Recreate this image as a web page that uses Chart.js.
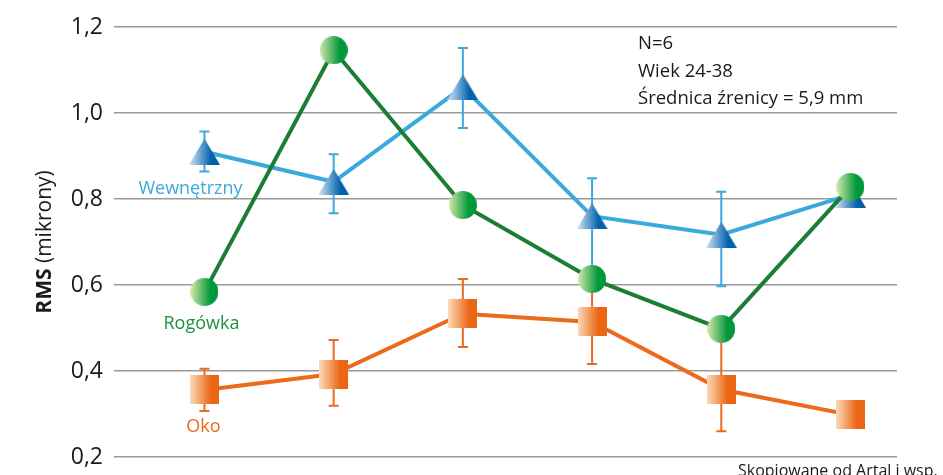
<!DOCTYPE html>
<html>
<head>
<meta charset="utf-8">
<script src="https://cdn.jsdelivr.net/npm/chart.js@4/dist/chart.umd.min.js"></script>
<style>
  html, body { margin: 0; padding: 0; background: #fff; }
  canvas { display: block; }
</style>
</head>
<body>
<canvas id="rmsChart" width="943" height="475"></canvas>
<script>
// pomiary (kolejne punkty)
var categories = [1, 2, 3, 4, 5, 6];

var wewnetrzny = [0.91, 0.84, 1.06, 0.76, 0.717, 0.81];
var wewnetrznyErrUp = [0.047, 0.064, 0.091, 0.088, 0.1, 0];
var wewnetrznyErrDown = [0.046, 0.073, 0.095, 0.12, 0.12, 0];

var rogowka = [0.584, 1.146, 0.786, 0.614, 0.498, 0.828];

var oko = [0.356, 0.393, 0.533, 0.514, 0.357, 0.298];
var okoErrUp = [0.049, 0.079, 0.081, 0.098, 0.12, 0];
var okoErrDown = [0.049, 0.074, 0.077, 0.098, 0.097, 0];

var yTicks = [0.2, 0.4, 0.6, 0.8, 1.0, 1.2];

var notes = ["N=6", "Wiek 24-38", "Średnica źrenicy = 5,9 mm"];
var source = "Skopiowane od Artal i wsp.";

var FONT = "'Open Sans', 'DejaVu Sans', sans-serif";

function points(values) {
  return values.map(function (v, i) {
    return { x: categories[i], y: v };
  });
}

// markery z poziomym gradientem (jasny z lewej, ciemny z prawej)
function makeMarker(shape, light, dark, w, h) {
  var c = document.createElement("canvas");
  c.width = w;
  c.height = h;
  var g = c.getContext("2d");
  var grad = g.createLinearGradient(0, 0, w, 0);
  grad.addColorStop(0, light);
  grad.addColorStop(0.72, dark);
  grad.addColorStop(1, dark);
  g.fillStyle = grad;
  g.beginPath();
  if (shape === "triangle") {
    g.moveTo(w / 2, 0);
    g.lineTo(w, h);
    g.lineTo(0, h);
    g.closePath();
  } else if (shape === "circle") {
    g.arc(w / 2, h / 2, w / 2, 0, Math.PI * 2);
  } else {
    g.rect(0, 0, w, h);
  }
  g.fill();
  return c;
}

var triangleMarker = makeMarker("triangle", "#d8e7f5", "#0062ad", 31, 26);
var circleMarker = makeMarker("circle", "#d6e8ab", "#00983a", 28, 28);
var squareMarker = makeMarker("square", "#fcdcba", "#eb6614", 29, 29);

// słupki błędów rysowane pod liniami i markerami
var errorBars = {
  id: "errorBars",
  beforeDatasetsDraw: function (chart) {
    var ctx = chart.ctx;
    var yScale = chart.scales.y;
    chart.data.datasets.forEach(function (ds, i) {
      if (!ds.errUp) return;
      var meta = chart.getDatasetMeta(i);
      ctx.save();
      ctx.strokeStyle = ds.borderColor;
      ctx.lineWidth = 2;
      meta.data.forEach(function (pt, j) {
        var v = ds.data[j].y;
        if (!ds.errUp[j] && !ds.errDown[j]) return;
        var top = yScale.getPixelForValue(v + ds.errUp[j]);
        var bottom = yScale.getPixelForValue(v - ds.errDown[j]);
        ctx.beginPath();
        ctx.moveTo(pt.x, top);
        ctx.lineTo(pt.x, bottom);
        ctx.moveTo(pt.x - 5, top);
        ctx.lineTo(pt.x + 5, top);
        ctx.moveTo(pt.x - 5, bottom);
        ctx.lineTo(pt.x + 5, bottom);
        ctx.stroke();
      });
      ctx.restore();
    });
  }
};

// opisy serii, tytuł osi, notka i źródło
var annotations = {
  id: "annotations",
  afterDraw: function (chart) {
    var ctx = chart.ctx;
    var area = chart.chartArea;

    ctx.save();
    ctx.textAlign = "center";
    ctx.textBaseline = "middle";
    ctx.font = "18px " + FONT;
    chart.data.datasets.forEach(function (ds, i) {
      var first = chart.getDatasetMeta(i).data[0];
      ctx.fillStyle = ds.labelColor;
      ctx.fillText(ds.label, first.x + ds.labelDx, first.y + ds.labelDy);
    });

    // tytuł osi Y: "RMS" pogrubione + " (mikrony)"
    ctx.translate(45, (area.top + area.bottom) / 2);
    ctx.rotate(-Math.PI / 2);
    ctx.fillStyle = "#1a1a1a";
    ctx.font = "bold 21px " + FONT;
    var boldPart = "RMS";
    var restPart = " (mikrony)";
    var wBold = ctx.measureText(boldPart).width;
    ctx.font = "21px " + FONT;
    var wRest = ctx.measureText(restPart).width;
    var startX = -(wBold + wRest) / 2;
    ctx.textAlign = "left";
    ctx.font = "bold 21px " + FONT;
    ctx.fillText(boldPart, startX, 0);
    ctx.font = "21px " + FONT;
    ctx.fillText(restPart, startX + wBold, 0);
    ctx.restore();

    ctx.save();
    ctx.fillStyle = "#1a1a1a";
    ctx.font = "18.5px " + FONT;
    ctx.textAlign = "left";
    ctx.textBaseline = "middle";
    notes.forEach(function (line, k) {
      ctx.fillText(line, area.right - 259, area.top + 17 + k * 27.5);
    });
    ctx.font = "16px " + FONT;
    ctx.textBaseline = "alphabetic";
    ctx.fillText(source, 738, 476);
    ctx.restore();
  }
};

window.onload = function () {
  var canvas = document.getElementById("rmsChart");
  new Chart(canvas, {
    type: "line",
    data: {
      datasets: [
        {
          label: "Rogówka",
          data: points(rogowka),
          borderColor: "#1b7e34",
          borderWidth: 4,
          pointStyle: circleMarker,
          pointRadius: 14,
          labelColor: "#1f8f3e",
          labelDx: -3,
          labelDy: 32
        },
        {
          label: "Oko",
          data: points(oko),
          borderColor: "#ec6a1c",
          borderWidth: 4,
          pointStyle: squareMarker,
          pointRadius: 14,
          errUp: okoErrUp,
          errDown: okoErrDown,
          labelColor: "#ec6a1c",
          labelDx: -1,
          labelDy: 37
        },
        {
          label: "Wewnętrzny",
          data: points(wewnetrzny),
          borderColor: "#3aa9de",
          borderWidth: 4,
          pointStyle: triangleMarker,
          pointRadius: 14,
          errUp: wewnetrznyErrUp,
          errDown: wewnetrznyErrDown,
          labelColor: "#3aa9de",
          labelDx: -14,
          labelDy: 37
        }
      ]
    },
    options: {
      responsive: false,
      animation: false,
      events: [],
      layout: { padding: { left: 0, right: 46, top: 27, bottom: 18 } },
      elements: { line: { tension: 0 } },
      plugins: {
        legend: { display: false },
        tooltip: { enabled: false }
      },
      scales: {
        x: {
          type: "linear",
          min: 0.3,
          max: 6.36,
          display: false
        },
        y: {
          min: 0.2,
          max: 1.2,
          afterFit: function (scale) {
            scale.width = 114;
            scale.paddingTop = 0;
            scale.paddingBottom = 0;
          },
          afterBuildTicks: function (scale) {
            scale.ticks = yTicks.map(function (v) { return { value: v }; });
          },
          border: { display: false },
          grid: { color: "#9a9a9a", lineWidth: 1.5, drawTicks: false },
          ticks: {
            padding: 11,
            color: "#1a1a1a",
            font: { family: FONT, size: 23 },
            callback: function (value) {
              return value.toFixed(1).replace(".", ",");
            }
          }
        }
      }
    },
    plugins: [errorBars, annotations]
  });
};
</script>
</body>
</html>
